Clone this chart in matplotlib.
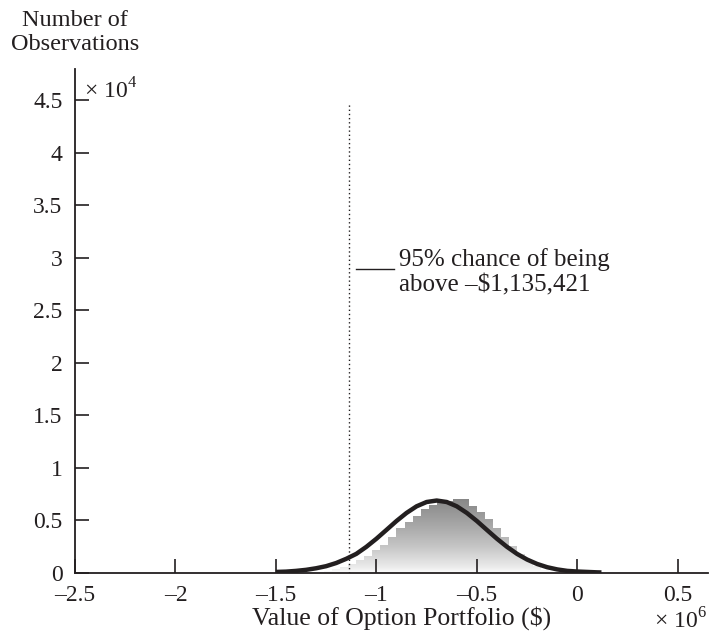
import numpy as np
import matplotlib
matplotlib.use("Agg")
import matplotlib.pyplot as plt
from matplotlib.path import Path
from matplotlib.patches import PathPatch
from matplotlib.colors import LinearSegmentedColormap

# === Dados (x em 10^6 $, contagens em 10^4) ===
bin_centers = [-1.32, -1.28, -1.24, -1.20, -1.16, -1.12, -1.08, -1.04, -1.00,
               -0.96, -0.92, -0.88, -0.84, -0.80, -0.76, -0.72, -0.68, -0.64,
               -0.60, -0.56, -0.52, -0.48, -0.44, -0.40, -0.36, -0.32, -0.28,
               -0.24, -0.20, -0.16, -0.12, -0.08, -0.04]
bin_counts = [0.005, 0.010, 0.020, 0.035, 0.055, 0.085, 0.120, 0.165, 0.215,
              0.267, 0.346, 0.425, 0.489, 0.543, 0.606, 0.648, 0.679, 0.688,
              0.700, 0.705, 0.640, 0.584, 0.511, 0.430, 0.345, 0.260, 0.180,
              0.110, 0.062, 0.032, 0.016, 0.008, 0.003]
bin_width = 0.04

curve_x = [-1.50, -1.45, -1.40, -1.35, -1.30, -1.25, -1.20, -1.15, -1.10,
           -1.05, -1.00, -0.95, -0.90, -0.85, -0.80, -0.75, -0.70, -0.65,
           -0.60, -0.55, -0.50, -0.45, -0.40, -0.35, -0.30, -0.25, -0.20,
           -0.15, -0.10, -0.05, 0.00, 0.05, 0.10, 0.12]
curve_y = [0.010, 0.013, 0.020, 0.030, 0.045, 0.065, 0.095, 0.135, 0.182,
           0.249, 0.326, 0.410, 0.495, 0.572, 0.635, 0.676, 0.690, 0.676,
           0.635, 0.572, 0.495, 0.410, 0.326, 0.249, 0.182, 0.128, 0.086,
           0.055, 0.034, 0.020, 0.014, 0.010, 0.006, 0.005]

var_95 = -1.135421
var_line_top = 4.48

x_ticks = [-2.5, -2.0, -1.5, -1.0, -0.5, 0.0, 0.5]
x_labels = ["\u20132.5", "\u20132", "\u20131.5", "\u20131", "\u20130.5", "0", "0.5"]
y_ticks = [0, 0.5, 1, 1.5, 2, 2.5, 3, 3.5, 4, 4.5]
y_labels = ["0", "0.5", "1", "1.5", "2", "2.5", "3", "3.5", "4", "4.5"]

ink = "#231f20"
plt.rcParams["font.family"] = ["Liberation Serif", "DejaVu Serif"]
plt.rcParams["mathtext.fontset"] = "custom"
plt.rcParams["mathtext.rm"] = "Liberation Serif"
plt.rcParams["font.size"] = 17

# === Figura ===
fig = plt.figure(figsize=(7.10, 6.38), dpi=100)
ax = fig.add_axes([0.1056, 0.1019, 0.8915, 0.790])

# barras invisiveis -> caminho de recorte para o degrade
bars = ax.bar(bin_centers, bin_counts, width=bin_width, color="none",
              edgecolor="none")
paths = [b.get_patch_transform().transform_path(b.get_path()) for b in bars]
clip = PathPatch(Path.make_compound_path(*paths), transform=ax.transData,
                 facecolor="none", edgecolor="none")
ax.add_patch(clip)

cmap = LinearSegmentedColormap.from_list(
    "cinza", [(0, "#fdfdfd"), (0.08, "#ebebeb"), (0.35, "#c6c6c6"),
              (0.6, "#ababab"), (1.0, "#868686")])
grad = np.linspace(0, 1, 256).reshape(-1, 1)
top = max(bin_counts)
im = ax.imshow(grad, extent=[min(bin_centers) - bin_width, max(bin_centers) + bin_width, 0, top],
               origin="lower", cmap=cmap, aspect="auto", zorder=1,
               interpolation="bilinear")
im.set_clip_path(clip)

# curva normal ajustada
ax.plot(curve_x, curve_y, color=ink, lw=3.2, zorder=3, solid_capstyle="butt")

# linha do VaR
ax.plot([var_95, var_95], [0, var_line_top], color=ink, lw=1.0,
        linestyle=(0, (1, 2)), zorder=2)
ax.plot([var_95 + 0.035, var_95 + 0.225], [2.895, 2.895], color=ink, lw=1.0)
ax.text(var_95 + 0.25, 2.867, "95% chance of being\nabove \u2013$1,135,421",
        ha="left", va="center", color=ink, linespacing=1.22, fontsize=18)

# === Eixos ===
ax.set_xlim(-2.5, 0.65)
ax.set_ylim(0, 4.8)
ax.set_xticks(x_ticks)
ax.set_xticklabels(x_labels)
ax.set_yticks(y_ticks)
ax.set_yticklabels(y_labels)
ax.tick_params(direction="in", length=10, width=1.2, colors=ink)
ax.tick_params(axis="x", pad=8.5)
ax.tick_params(axis="y", pad=9)
for s in ["top", "right"]:
    ax.spines[s].set_visible(False)
for s in ["left", "bottom"]:
    ax.spines[s].set_linewidth(1.3)
    ax.spines[s].set_color(ink)
ax.set_facecolor("white")

fig.text(0.106, 0.949, "Number of\nObservations", ha="center", va="center",
         color=ink, linespacing=1.2, fontsize=17.5)
fig.text(0.118, 0.858, "\u00d7 10$^{4}$", ha="left", va="center", color=ink)
fig.text(0.565, 0.031, "Value of Option Portfolio ($)", ha="center",
         va="center", color=ink, fontsize=18.5)
fig.text(0.995, 0.027, "\u00d7 10$^{6}$", ha="right", va="center", color=ink)

fig.savefig("out.png", dpi=100)
